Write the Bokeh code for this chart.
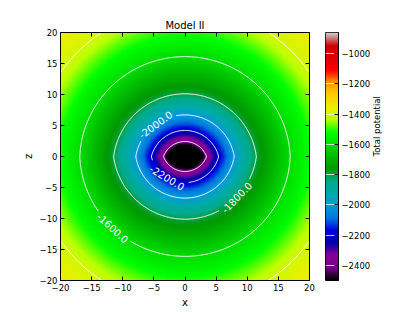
import math
import numpy as np
import contourpy
from bokeh.plotting import figure
from bokeh.layouts import row
from bokeh.models import (Range1d, LinearColorMapper, FixedTicker, LinearAxis,
                          CustomJSTickFormatter, ColumnDataSource)
from bokeh.embed import file_html
from bokeh.resources import INLINE
from bokeh.core.properties import value

# ---------------- data ----------------
title = "Model II"
x_label = "x"
z_label = "z"
cbar_label = "Total potential"

axis_ticks = [-20, -15, -10, -5, 0, 5, 10, 15, 20]
cbar_ticks = [-2400, -2200, -2000, -1800, -1600, -1400, -1200, -1000]
cbar_low = -2500
cbar_high = -860

# contour levels of the potential
levels = [-2400, -2200, -2000, -1800, -1600, -1400, -1200, -1000]
# where each drawn contour crosses the x axis (z = 0) and the z axis (x = 0)
cross_x = [3.45, 5.4, 7.9, 11.45, 16.9, 24.3]
cross_z = [2.4, 4.2, 6.7, 10.1, 16.1, 24.0]
# potential in the centre (below the colour scale) and in the corners
centre_value = -2900
corner_value = -1345
corner_dist = 28.3

# labelled contours (approximate label positions)
label_levels = [-2000, -2200, -1800, -1600]
label_x = [-4.7, -2.9, 8.5, -11.5]
label_z = [5.1, -3.4, -6.85, -11.4]

# nipy_spectral colour map segment data
cm_r = [0, .4667, .5333, 0, 0, 0, 0, 0, 0, 0, 0, 0, 0, .7333, .9333, 1, 1, 1, .8667, .8, .8]
cm_g = [0, 0, 0, 0, 0, .4667, .6, .6667, .6667, .6, .7333, .8667, 1, 1, .9333, .8, .6, 0, 0, 0, .8]
cm_b = [0, .5333, .6, .6667, .8667, .8667, .8667, .6667, .5333, 0, 0, 0, 0, 0, 0, 0, 0, 0, 0, 0, .8]

# ---------------- palette ----------------
pos = np.linspace(0, 1, len(cm_r))
t = np.linspace(0, 1, 256)
rr = np.interp(t, pos, cm_r)
gg = np.interp(t, pos, cm_g)
bb = np.interp(t, pos, cm_b)
palette = ["#%02x%02x%02x" % (int(round(r * 255)), int(round(g * 255)), int(round(b * 255)))
           for r, g, b in zip(rr, gg, bb)]
mapper = LinearColorMapper(palette=palette, low=cbar_low, high=cbar_high)

# ---------------- field built from the read contour geometry ----------------
N = 300
xc = -20 + (np.arange(N) + 0.5) * 40.0 / N
X, Z = np.meshgrid(xc, xc)
a = np.array(cross_x)
b = np.array(cross_z)
k_knots = (a ** 2 - b ** 2) / (2 * b)
rho = np.hypot(X, Z)
k = np.interp(rho, a, k_knots)
d = np.sqrt(X ** 2 + (np.abs(Z) + k) ** 2) - k
d_knots = np.concatenate([[0.0], b, [corner_dist]])
v_knots = np.concatenate([[centre_value], np.array(levels[:len(b)], float), [corner_value]])
phi = np.interp(d, d_knots, v_knots)

# ---------------- figure ----------------
FW, FH = 249, 248
sx, sz = FW / 40.0, FH / 40.0
FONT = "DejaVu Sans"

p = figure(frame_width=FW, frame_height=FH, x_range=Range1d(-20, 20), y_range=Range1d(-20, 20),
           min_border_left=60, min_border_right=9, min_border_top=32, min_border_bottom=24,
           toolbar_location=None, output_backend="svg", title=title)
p.grid.visible = False
p.outline_line_color = "black"
p.title.text_font = FONT
p.title.text_font_size = "10px"
p.title.text_font_style = "normal"
p.title.text_color = "black"
p.title.align = "center"
p.title.standoff = 4

p.image(image=[phi], x=-20, y=-20, dw=40, dh=40, color_mapper=mapper)


def minus(v):
    return str(v).replace("-", "\u2212")


xa = p.below[0]
ya = p.left[0]
xa.axis_label = x_label
ya.axis_label = z_label
for ax in (xa, ya):
    ax.ticker = FixedTicker(ticks=axis_ticks)
    ax.major_label_overrides = {tk: minus(tk) for tk in axis_ticks}
    ax.major_tick_in = 4
    ax.major_tick_out = 0
    ax.minor_tick_line_color = None
    ax.major_label_standoff = 3
    ax.major_label_text_font = FONT
    ax.major_label_text_font_size = "8.5px"
    ax.major_label_text_color = "black"
    ax.axis_label_text_font = FONT
    ax.axis_label_text_font_size = "10px"
    ax.axis_label_text_font_style = "normal"
    ax.axis_label_text_color = "black"
    ax.axis_label_standoff = 3
    ax.axis_line_color = "black"
    ax.major_tick_line_color = "black"

for side in ("above", "right"):
    ax = LinearAxis(ticker=FixedTicker(ticks=axis_ticks),
                    formatter=CustomJSTickFormatter(code="return ''"),
                    major_tick_in=4, major_tick_out=0, minor_tick_line_color=None,
                    major_label_standoff=0, major_label_text_font_size="0px",
                    major_label_text_color=None, axis_line_color="black",
                    major_tick_line_color="black")
    p.add_layout(ax, side)

# contour lines with gaps for the labels
gen = contourpy.contour_generator(xc, xc, phi, line_type="Separate")
gap_px = 22.0


def cut(line, cx, cz, r):
    keep = np.hypot((line[:, 0] - cx) * sx, (line[:, 1] - cz) * sz) > r
    if keep.all():
        return [line]
    pts = line
    if np.allclose(pts[0], pts[-1]):
        pts = pts[:-1]
        keep = keep[:-1]
        i0 = int(np.argmin(keep))
        pts = np.roll(pts, -i0, axis=0)
        keep = np.roll(keep, -i0)
    segs, cur = [], []
    for pt, kp in zip(pts, keep):
        if kp:
            cur.append(pt)
        else:
            if len(cur) > 1:
                segs.append(np.array(cur))
            cur = []
    if len(cur) > 1:
        segs.append(np.array(cur))
    return segs


xs_all, ys_all = [], []
lab_x, lab_y, lab_t, lab_a = [], [], [], []
for lev in levels:
    lines = gen.lines(lev)
    if lev in label_levels:
        j = label_levels.index(lev)
        px, pz = label_x[j], label_z[j]
        best = None
        for li, ln in enumerate(lines):
            dd = np.hypot((ln[:, 0] - px) * sx, (ln[:, 1] - pz) * sz)
            i = int(np.argmin(dd))
            if best is None or dd[i] < best[0]:
                best = (dd[i], li, i)
        _, li, i = best
        ln = lines[li]
        i1, i2 = max(i - 3, 0), min(i + 3, len(ln) - 1)
        ang = math.atan2((ln[i2, 1] - ln[i1, 1]) * sz, (ln[i2, 0] - ln[i1, 0]) * sx)
        if ang > math.pi / 2:
            ang -= math.pi
        if ang < -math.pi / 2:
            ang += math.pi
        cx, cz = ln[i, 0], ln[i, 1]
        lab_x.append(cx)
        lab_y.append(cz)
        lab_t.append("%.1f" % lev)
        lab_a.append(ang)
        new = []
        for ln2 in lines:
            new.extend(cut(ln2, cx, cz, gap_px))
        lines = new
    for ln in lines:
        xs_all.append(ln[:, 0].tolist())
        ys_all.append(ln[:, 1].tolist())

p.multi_line(xs=xs_all, ys=ys_all, line_color="white", line_width=1)
lab_src = ColumnDataSource(dict(x=lab_x, y=lab_y, text=lab_t, angle=lab_a))
p.text(x="x", y="y", text="text", angle="angle", source=lab_src, text_color="white",
       text_font=value(FONT), text_font_size="10px", text_align="center",
       text_baseline="middle")

# ---------------- colour bar ----------------
cb = figure(frame_width=13, frame_height=FH, x_range=Range1d(0, 1),
            y_range=Range1d(cbar_low, cbar_high), min_border_left=7, min_border_right=5,
            min_border_top=32, min_border_bottom=24, toolbar_location=None,
            output_backend="svg", y_axis_location="right")
cb.grid.visible = False
cb.xaxis.visible = False
cb.outline_line_color = "black"
grad = np.linspace(cbar_low, cbar_high, 400).reshape(-1, 1)
cb.image(image=[grad], x=0, y=cbar_low, dw=1, dh=cbar_high - cbar_low, color_mapper=mapper)
cb.hspan(y=levels, line_color="white", line_alpha=0.75, line_width=1)
cya = cb.right[0]
cya.ticker = FixedTicker(ticks=cbar_ticks)
cya.major_label_overrides = {tk: minus(tk) for tk in cbar_ticks}
cya.major_tick_in = 4
cya.major_tick_out = 0
cya.minor_tick_line_color = None
cya.major_label_standoff = 3
cya.major_label_text_font = FONT
cya.major_label_text_font_size = "8.5px"
cya.major_label_text_color = "black"
cya.axis_label = cbar_label
cya.axis_label_text_font = FONT
cya.axis_label_text_font_size = "8.5px"
cya.axis_label_text_font_style = "normal"
cya.axis_label_text_color = "black"
cya.axis_label_standoff = 4
cya.axis_line_color = "black"
cya.major_tick_line_color = "black"
try:
    cya.axis_label_orientation = math.pi / 2
except Exception:
    pass

layout = row(p, cb)
open("out.html", "w").write(file_html(layout, INLINE))
